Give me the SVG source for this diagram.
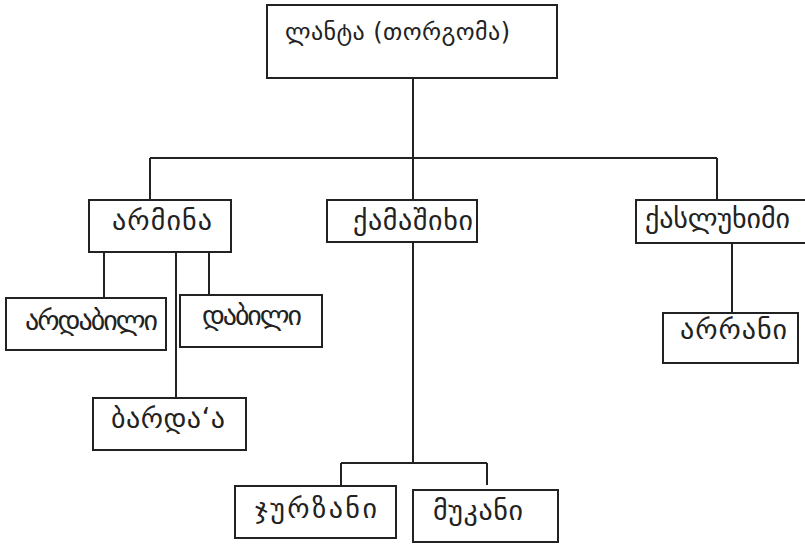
<svg xmlns="http://www.w3.org/2000/svg" width="805" height="544" viewBox="0 0 805 544">
<style>
.box{fill:#fff;stroke:#222;stroke-width:2}
.ln{fill:none;stroke:#222;stroke-width:2}
text{font-family:"DejaVu Sans","Noto Sans",sans-serif;font-size:28px;fill:#222}
.top{font-size:24px}
</style>
<rect width="805" height="544" fill="#fff"/>
<g id="connectors">
<path class="ln" d="M413 78V158M150 158H717M150 158V200M717 158V200M413 158V200"/>
<path class="ln" d="M104 252V298M176 252V398M209 252V295"/>
<path class="ln" d="M413 242V463M341 463H487M341 463V486M487 463V485"/>
<path class="ln" d="M732 243V313"/>
</g>
<g id="n-lanta"><rect class="box" x="267" y="5" width="290" height="73"/><text class="top" x="285" y="40" textLength="225">ლანტა (თორგომა)</text></g>
<g id="n-armina"><rect class="box" x="89" y="200" width="142" height="52"/><text x="112" y="230" textLength="100">არმინა</text></g>
<g id="n-qamashikhi"><rect class="box" x="327" y="200" width="150" height="42"/><text x="353" y="230" textLength="120">ქამაშიხი</text></g>
<g id="n-qaslukhimi"><rect class="box" x="636" y="200" width="172" height="43"/><text x="645" y="228" textLength="145">ქასლუხიმი</text></g>
<g id="n-ardabili"><rect class="box" x="6" y="298" width="160" height="52"/><text x="25" y="330" textLength="133">არდაბილი</text></g>
<g id="n-dabili"><rect class="box" x="180" y="295" width="142" height="52"/><text x="202" y="325" textLength="100">დაბილი</text></g>
<g id="n-barda"><rect class="box" x="93" y="398" width="153" height="52"/><text x="111" y="428" textLength="114">ბარდა‘ა</text></g>
<g id="n-arrani"><rect class="box" x="663" y="313" width="135" height="50"/><text x="680" y="339" textLength="107">არრანი</text></g>
<g id="n-jurzani"><rect class="box" x="235" y="486" width="161" height="52"/><text x="255" y="518" textLength="122">ჯურზანი</text></g>
<g id="n-mukani"><rect class="box" x="413" y="490" width="145" height="52"/><text x="433" y="520" textLength="90">მუკანი</text></g>
</svg>
